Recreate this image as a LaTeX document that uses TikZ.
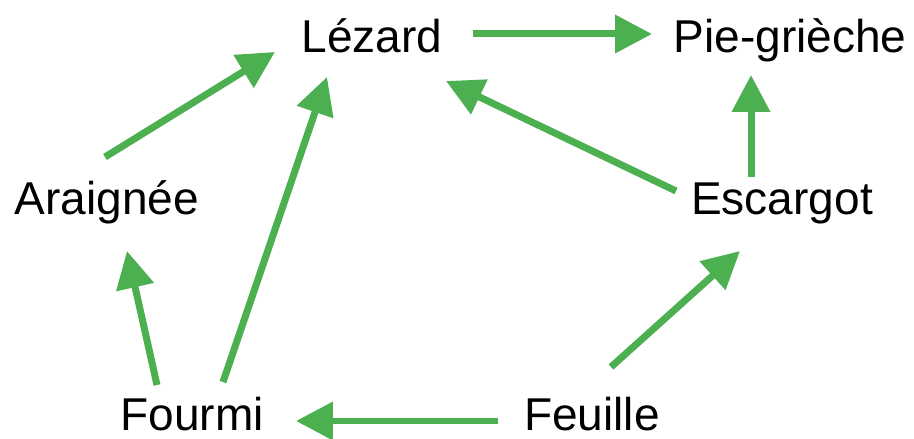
\documentclass[tikz,border=0pt]{standalone}
\usepackage{fontspec}
\setmainfont{Liberation Sans}
\usetikzlibrary{arrows.meta}
\definecolor{chaingreen}{HTML}{4CAF50}
\tikzset{
  sp/.style={inner sep=0,text height=0.68cm,text depth=0.2cm,
    font=\fontsize{26.2}{31}\selectfont},
  low/.style={text depth=0cm},
  eats/.style={chaingreen,line width=0.14cm,
    -{Triangle[length=0.74cm,width=0.74cm]}}
}

\begin{document}
\begin{tikzpicture}[x=0.02cm,y=-0.02cm]
    \useasboundingbox (0,0) rectangle (914,439);

    \node[sp] (lezard) at (372,41) {Lézard};
    \node[sp] (pie) at (790,41) {Pie-grièche};
    \node[sp] (araignee) at (107,203) {Araignée};
    \node[sp] (escargot) at (782,203) {Escargot};
    \node[sp,low] (fourmi) at (192,414) {Fourmi};
    \node[sp,low] (feuille) at (592,414) {Feuille};

    % who is eaten -> who eats
    \foreach \a/\sa/\b/\sb in {lezard/{(101,-7)}/pie/{(-138,-7)},
        araignee/{(-2,-46)}/lezard/{(-97,11)},
        fourmi/{(-35,-29)}/araignee/{(20,48)},
        fourmi/{(31,-32)}/lezard/{(-45,36)},
        escargot/{(-106,-12)}/lezard/{(74,40)},
        escargot/{(-31,-26)}/pie/{(-39,34)},
        feuille/{(19,-47)}/escargot/{(-42,48)},
        feuille/{(-94,7)}/fourmi/{(104,7)}}
      \draw[eats] ([shift={\sa}]\a.center) -- ([shift={\sb}]\b.center);
\end{tikzpicture}
\end{document}
